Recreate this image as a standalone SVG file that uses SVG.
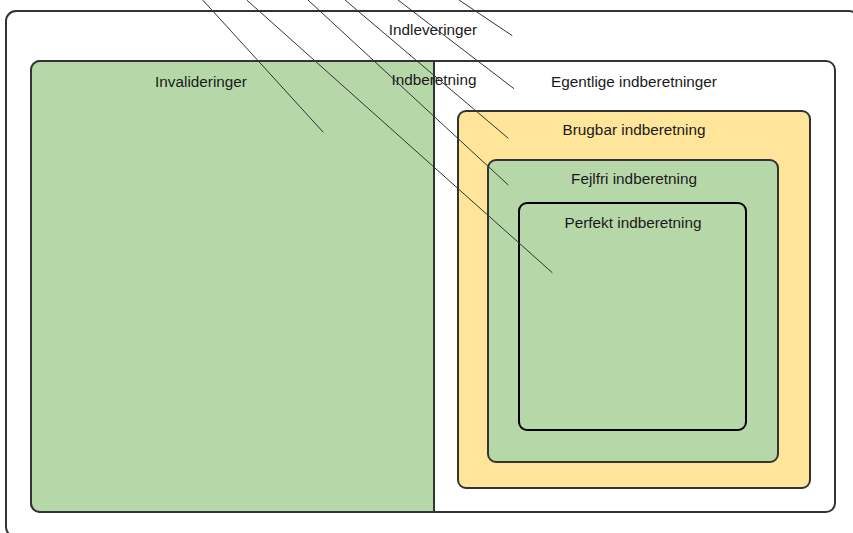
<svg xmlns="http://www.w3.org/2000/svg" width="853" height="533" viewBox="0 0 853 533">
  <style>
    .box { stroke: #333333; stroke-width: 2; }
    .green { fill: #b6d7a8; }
    .yellow { fill: #ffe599; }
    .white { fill: #ffffff; }
    .lbl { font-family: "Liberation Sans", Arial, sans-serif; font-size: 15.3px; fill: #1a1a1a; text-anchor: middle; }
    .ln { stroke: #333333; stroke-width: 1; fill: none; }
  </style>
  <rect x="0" y="0" width="853" height="533" fill="#ffffff"/>
  <g id="indleveringer">
    <rect class="box white" x="6" y="11" width="853" height="526" rx="10"/>
    <text class="lbl" x="433" y="35">Indleveringer</text>
  </g>
  <g id="indberetning">
    <rect class="box white" x="31" y="61" width="804" height="451" rx="9"/>
  </g>
  <g id="invalideringer">
    <path class="box green" d="M434,61 H40 A9,9 0 0 0 31,70 V503 A9,9 0 0 0 40,512 H434 Z"/>
    <text class="lbl" x="201" y="87">Invalideringer</text>
  </g>
  <g id="indberetning-label">
    <text class="lbl" x="434" y="85">Indberetning</text>
  </g>
  <g id="egentlige">
    <text class="lbl" x="634" y="87">Egentlige indberetninger</text>
  </g>
  <g id="brugbar">
    <rect class="box yellow" x="458" y="111" width="352" height="377" rx="8"/>
    <text class="lbl" x="634" y="135">Brugbar indberetning</text>
  </g>
  <g id="fejlfri">
    <rect class="box green" x="488" y="160" width="290" height="302" rx="8"/>
    <text class="lbl" x="634" y="184">Fejlfri indberetning</text>
  </g>
  <g id="perfekt">
    <rect class="green" x="519" y="203" width="227" height="227" rx="8" stroke="#000000" stroke-width="2"/>
    <text class="lbl" x="633" y="228">Perfekt indberetning</text>
  </g>
  <g id="connectors">
    <line class="ln" x1="202.7" y1="0" x2="323.3" y2="132.3"/>
    <line class="ln" x1="246.7" y1="0" x2="552.3" y2="272.7"/>
    <line class="ln" x1="308" y1="0" x2="508.3" y2="185"/>
    <line class="ln" x1="345" y1="0" x2="508.3" y2="138.3"/>
    <line class="ln" x1="398" y1="0" x2="514" y2="88.7"/>
    <line class="ln" x1="459" y1="0" x2="512.3" y2="35.7"/>
  </g>
</svg>
